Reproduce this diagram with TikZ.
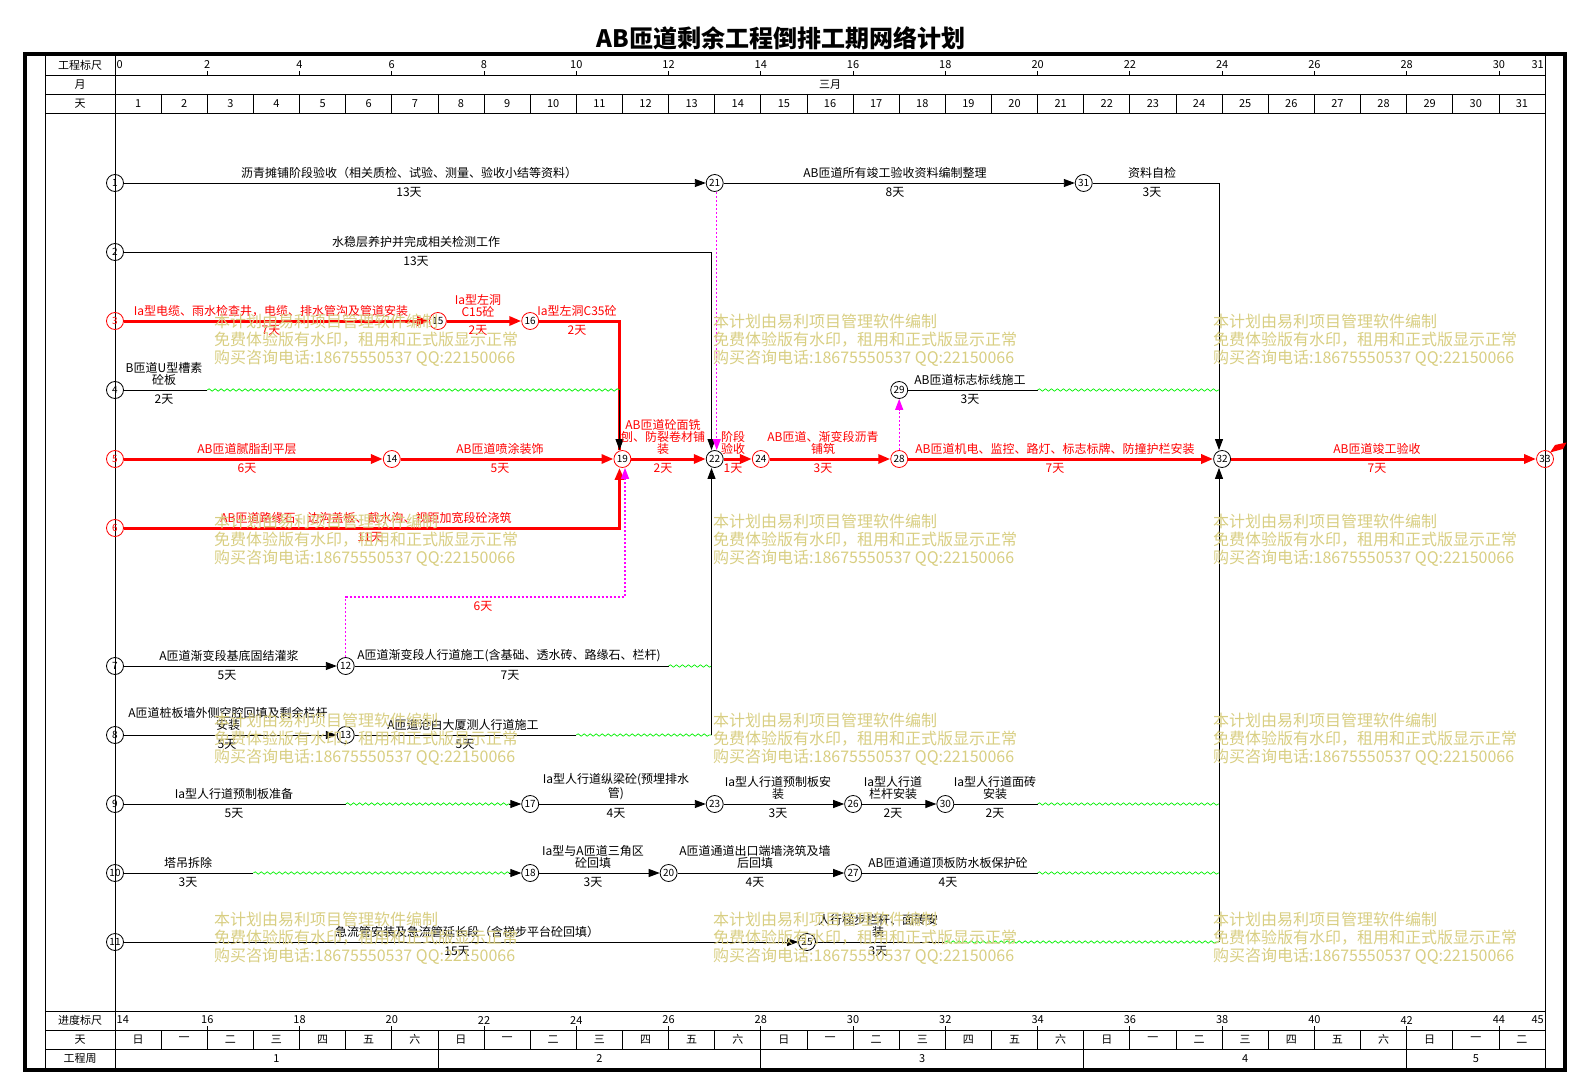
\documentclass[tikz,border=0pt]{standalone}
\usepackage{fontspec}
\setmainfont{Noto Sans CJK SC}
\usetikzlibrary{arrows.meta,decorations.pathmorphing}
\definecolor{wmk}{RGB}{216,206,130}
\definecolor{mgt}{RGB}{255,0,255}
\definecolor{grn}{RGB}{0,240,0}
\newcounter{nn}
\tikzset{
 autoname/.code={\stepcounter{nn}\pgfkeysalso{/tikz/name=t\arabic{nn}}},
 ev/.style={circle,draw=black,line width=0.8pt,minimum size=17pt,inner sep=0pt,font=\fontsize{10}{10}\selectfont},
 evr/.style={ev,draw=red},
 act/.style={draw=black,line width=0.9pt,-{Triangle[length=11pt,width=8pt]}},
 actn/.style={draw=black,line width=0.9pt},
 crit/.style={draw=red,line width=3pt,-{Triangle[length=12pt,width=9pt]}},
 critn/.style={draw=red,line width=3pt},
 dum/.style={draw=mgt,line width=1.3pt,dash pattern=on 2pt off 2pt,-{Triangle[length=11pt,width=8pt]}},
 free/.style={draw=grn,line width=0.7pt,decorate,decoration={snake,segment length=6pt,amplitude=1.2pt}},
 nm/.style={autoname,font=\fontsize{12}{12}\selectfont,align=center,inner sep=0pt,anchor=south},
 du/.style={autoname,font=\fontsize{12}{12}\selectfont,inner sep=0pt,anchor=north},
 nmr/.style={nm,text=red},
 dur/.style={du,text=red},
 hd/.style={font=\fontsize{11}{11}\selectfont,inner sep=0pt},
 wm/.style={autoname,text=wmk,font=\fontsize{16}{18}\selectfont,align=left,anchor=north west,inner sep=0pt},
 grid/.style={line width=0.8pt},
}
\begin{document}
\begin{tikzpicture}[x=1pt,y=-1pt]
\useasboundingbox (0,0) rectangle (1571,1075);
\node (title) at (781,38) {\fontsize{24}{24}\selectfont\bfseries AB匝道剩余工程倒排工期网络计划};
% frame and grid
\draw[line width=4pt] (25,54) rectangle (1565,1070);
\draw[grid] (45,54) -- (45,1070) (115,54) -- (115,1070) (1545,54) -- (1545,1070);
\draw[grid] (45,75) -- (1545,75) (45,94) -- (1545,94) (45,113) -- (1545,113)
  (45,1011) -- (1545,1011) (45,1030) -- (1545,1030) (45,1049) -- (1545,1049);
\node[hd] (h1) at (80,65.5) {工程标尺};
\node[hd] (h2) at (80,84.5) {月};
\node[hd] (h3) at (80,103.5) {天};
\node[hd] (b1) at (80,1020.5) {进度标尺};
\node[hd] (b2) at (80,1039.5) {天};
\node[hd] (b3) at (80,1058.5) {工程周};
\node[hd] (mon) at (830,84.5) {三月};
\foreach \d in {1,...,30} {\draw[grid] ({115+46.13*\d},94) -- ({115+46.13*\d},113) ({115+46.13*\d},1030) -- ({115+46.13*\d},1049);}
\foreach \d in {1,...,31} {
  \node[hd,name=dn\d] at ({115+46.13*(\d-0.5)},103.5) {\d};
  \pgfmathtruncatemacro\wkd{mod(\d-1,7)}
  \node[hd,name=wd\d] at ({115+46.13*(\d-0.5)},1039.5) {\ifcase\wkd 日\or 一\or 二\or 三\or 四\or 五\or 六\fi};
}
\foreach \d in {2,4,...,30} {
  \draw[grid] ({115+46.13*\d},75) -- ++(0,-4);
  \node[hd,name=tk\d] at ({115+46.13*\d},65) {\d};
  \pgfmathtruncatemacro\bv{\d+14}
  \draw[grid] ({115+46.13*\d},1030) -- ++(0,-4);
  \node[hd,name=bk\d] at ({115+46.13*\d},1020) {\bv};
}
\node[hd,anchor=west] (tk0) at (116.5,65) {0};
\node[hd,anchor=east] (tk31) at (1544,65) {31};
\node[hd,anchor=west] (bk0) at (116.5,1020) {14};
\node[hd,anchor=east] (bk31) at (1544,1020) {45};
\foreach \d in {7,14,21,28} {\draw[grid] ({115+46.13*\d},1049) -- ({115+46.13*\d},1070);}
\foreach \w/\c in {1/3.5,2/10.5,3/17.5,4/24.5,5/29.5} {\node[hd,name=wk\w] at ({115+46.13*\c},1058.5) {\w};}
% events
\node[ev] (n1) at (115,183) {1};
\node[ev] (n2) at (115,252) {2};
\node[evr,text=red] (n3) at (115,321) {3};
\node[ev] (n4) at (115,390) {4};
\node[evr,text=red] (n5) at (115,459) {5};
\node[evr,text=red] (n6) at (115,528) {6};
\node[ev] (n7) at (115,666) {7};
\node[ev] (n8) at (115,735) {8};
\node[ev] (n9) at (115,804) {9};
\node[ev] (n10) at (115,873) {10};
\node[ev] (n11) at (115,942) {11};
\node[ev] (n12) at (345.7,666) {12};
\node[ev] (n13) at (345.7,735) {13};
\node[evr] (n14) at (391.8,459) {14};
\node[evr] (n15) at (437.9,321) {15};
\node[evr] (n16) at (530.2,321) {16};
\node[ev] (n17) at (530.2,804) {17};
\node[ev] (n18) at (530.2,873) {18};
\node[evr] (n19) at (622.4,459) {19};
\node[ev] (n20) at (668.6,873) {20};
\node[ev] (n21) at (714.7,183) {21};
\node[ev] (n22) at (714.7,459) {22};
\node[ev] (n23) at (714.7,804) {23};
\node[evr] (n24) at (760.8,459) {24};
\node[ev] (n25) at (807.0,942) {25};
\node[ev] (n26) at (853.1,804) {26};
\node[ev] (n27) at (853.1,873) {27};
\node[evr] (n28) at (899.2,459) {28};
\node[ev] (n29) at (899.2,390) {29};
\node[ev] (n30) at (945.3,804) {30};
\node[ev] (n31) at (1083.7,183) {31};
\node[ev] (n32) at (1222.1,459) {32};
\node[evr] (n33) at (1545,459) {33};
% helper coordinates
\coordinate (c31) at (1219,183);
\coordinate (c2) at (711.5,252);
\coordinate (c16) at (619.5,321);
\coordinate (c4a) at (207.3,390);
\coordinate (c4b) at (619.5,390);
\coordinate (c6) at (619.5,528);
\coordinate (c12a) at (345.7,597);
\coordinate (c12b) at (625,597);
\coordinate (c29a) at (1037.6,390);
\coordinate (c29b) at (1219,390);
\coordinate (c7a) at (668.6,666);
\coordinate (c7b) at (711.5,666);
\coordinate (c8a) at (576.3,735);
\coordinate (c8b) at (711.5,735);
\coordinate (c9a) at (345.7,804);
\coordinate (c9b) at (1037.6,804);
\coordinate (c9c) at (1219,804);
\coordinate (c10a) at (253.4,873);
\coordinate (c10b) at (1037.6,873);
\coordinate (c10c) at (1219,873);
\coordinate (c11a) at (945.3,942);
\coordinate (c11b) at (1219,942);
% row 1
\draw[act] (n1) -- (n21);
\draw[act] (n21) -- (n31);
\draw[act] (n31) -- (c31) -- (c31 |- n32.north);
% row 2
\draw[act] (n2) -- (c2) -- (c2 |- n22.north);
\draw[dum] ([xshift=2pt]n21.south) -- ([xshift=2pt]n22.north);
% row 3
\draw[crit] (n3) -- (n15);
\draw[crit] (n15) -- (n16);
\draw[critn] (n16) -- (c16) -- (c16 |- n19.north);
% row 4
\draw[actn] (n4) -- (c4a);
\draw[free] (c4a) -- (c4b);
\draw[act] (c4b) -- (c4b |- n19.north);
% row 5 and 6
\draw[crit] (n5) -- (n14);
\draw[crit] (n14) -- (n19);
\draw[crit] (n6) -- (c6) -- (c6 |- n19.south);
\draw[dum] (n12) -- (c12a) -- (c12b) -- (c12b |- n19.south);
\draw[crit] (n19) -- (n22);
\draw[crit] (n22) -- (n24);
\draw[crit] (n24) -- (n28);
\draw[crit] (n28) -- (n32);
\draw[crit] (n32) -- (n33);
\draw[dum] (n28) -- (n29);
\draw[actn] (n29) -- (c29a);
\draw[free] (c29a) -- (c29b);
\fill[red] (1550,452.5) -- (1555,445) -- (1566.5,442.5) -- (1563,449) -- cycle;
% row 7 and 8
\draw[act] (n7) -- (n12);
\draw[actn] (n12) -- (c7a);
\draw[free] (c7a) -- (c7b);
\draw[act] (n8) -- (n13);
\draw[actn] (n13) -- (c8a);
\draw[free] (c8a) -- (c8b);
\draw[act] (c8b) -- (c8b |- n22.south);
% row 9
\draw[actn] (n9) -- (c9a);
\draw[free] (c9a) -- ([xshift=-11pt]n17.west);
\draw[act] ([xshift=-12pt]n17.west) -- (n17);
\draw[act] (n17) -- (n23);
\draw[act] (n23) -- (n26);
\draw[act] (n26) -- (n30);
\draw[actn] (n30) -- (c9b);
\draw[free] (c9b) -- (c9c);
% row 10
\draw[actn] (n10) -- (c10a);
\draw[free] (c10a) -- ([xshift=-11pt]n18.west);
\draw[act] ([xshift=-12pt]n18.west) -- (n18);
\draw[act] (n18) -- (n20);
\draw[act] (n20) -- (n27);
\draw[actn] (n27) -- (c10b);
\draw[free] (c10b) -- (c10c);
% row 11
\draw[act] (n11) -- (n25);
\draw[actn] (n25) -- (c11a);
\draw[free] (c11a) -- (c11b);
\draw[act] (c11b) -- (c11b |- n32.south);
% labels row 1-2
\node[nm] at (409,179) {沥青摊铺阶段验收（相关质检、试验、测量、验收小结等资料）};
\node[du] at (409,187) {13天};
\node[nm] at (895,179) {AB匝道所有竣工验收资料编制整理};
\node[du] at (895,187) {8天};
\node[nm] at (1152,179) {资料自检};
\node[du] at (1152,187) {3天};
\node[nm] at (416,248) {水稳层养护并完成相关检测工作};
\node[du] at (416,256) {13天};
% row 3
\node[nmr] at (271,317) {Ia型电缆、雨水检查井，电缆、排水管沟及管道安装};
\node[dur] at (271,325) {7天};
\node[nmr] at (478,317) {Ia型左洞\\C15砼};
\node[dur] at (478,325) {2天};
\node[nmr] at (577,317) {Ia型左洞C35砼};
\node[dur] at (577,325) {2天};
% row 4
\node[nm] at (164,386) {B匝道U型槽素\\砼板};
\node[du] at (164,394) {2天};
\node[nm] at (970,386) {AB匝道标志标线施工};
\node[du] at (970,394) {3天};
% row 5
\node[nmr] at (247,455) {AB匝道腻脂刮平层};
\node[dur] at (247,463) {6天};
\node[nmr] at (500,455) {AB匝道喷涂装饰};
\node[dur] at (500,463) {5天};
\node[nmr] at (663,455) {AB匝道砼面铣\\刨、防裂卷材铺\\装};
\node[dur] at (663,463) {2天};
\node[nmr] at (733,455) {阶段\\验收};
\node[dur] at (733,463) {1天};
\node[nmr] at (823,455) {AB匝道、渐变段沥青\\铺筑};
\node[dur] at (823,463) {3天};
\node[nmr] at (1055,455) {AB匝道机电、监控、路灯、标志标牌、防撞护栏安装};
\node[dur] at (1055,463) {7天};
\node[nmr] at (1377,455) {AB匝道竣工验收};
\node[dur] at (1377,463) {7天};
% row 6
\node[nmr] at (366,524) {AB匝道路缘石、边沟盖板、截水沟、视距加宽段砼浇筑};
\node[dur] at (370,532) {11天};
\node[dur] at (483,601) {6天};
% row 7
\node[nm] at (229,662) {A匝道渐变段基底固结灌浆};
\node[du] at (227,670) {5天};
\node[nm] at (509,662) {A匝道渐变段人行道施工(含基础、透水砖、路缘石、栏杆)};
\node[du] at (510,670) {7天};
% row 8
\node[nm] at (228,731) {A匝道桩板墙外侧空腔回填及剩余栏杆\\安装};
\node[du] at (227,739) {5天};
\node[nm] at (463,731) {A匝道沧白大厦测人行道施工};
\node[du] at (465,739) {5天};
% row 9
\node[nm] at (234,800) {Ia型人行道预制板准备};
\node[du] at (234,808) {5天};
\node[nm] at (616,800) {Ia型人行道纵梁砼(预埋排水\\管)};
\node[du] at (616,808) {4天};
\node[nm] at (778,800) {Ia型人行道预制板安\\装};
\node[du] at (778,808) {3天};
\node[nm] at (893,800) {Ia型人行道\\栏杆安装};
\node[du] at (893,808) {2天};
\node[nm] at (995,800) {Ia型人行道面砖\\安装};
\node[du] at (995,808) {2天};
% row 10
\node[nm] at (188,869) {塔吊拆除};
\node[du] at (188,877) {3天};
\node[nm] at (593,869) {Ia型与A匝道三角区\\砼回填};
\node[du] at (593,877) {3天};
\node[nm] at (755,869) {A匝道通道出口端墙浇筑及墙\\后回填};
\node[du] at (755,877) {4天};
\node[nm] at (948,869) {AB匝道通道顶板防水板保护砼};
\node[du] at (948,877) {4天};
% row 11
\node[nm] at (467,938) {急流管安装及急流管延长段（含梯步平台砼回填）};
\node[du] at (457,946) {15天};
\node[nm] at (878,938) {人行梯步栏杆、面砖安\\装};
\node[du] at (878,946) {3天};
% watermark
\foreach \yy in {314,514,713,912} {
  \foreach \xx in {214,713,1213} {
    \node[wm] at (\xx,\yy) {本计划由易利项目管理软件编制\\免费体验版有水印，租用和正式版显示正常\\购买咨询电话:18675550537 QQ:22150066};
  }
}
\end{tikzpicture}
\end{document}
